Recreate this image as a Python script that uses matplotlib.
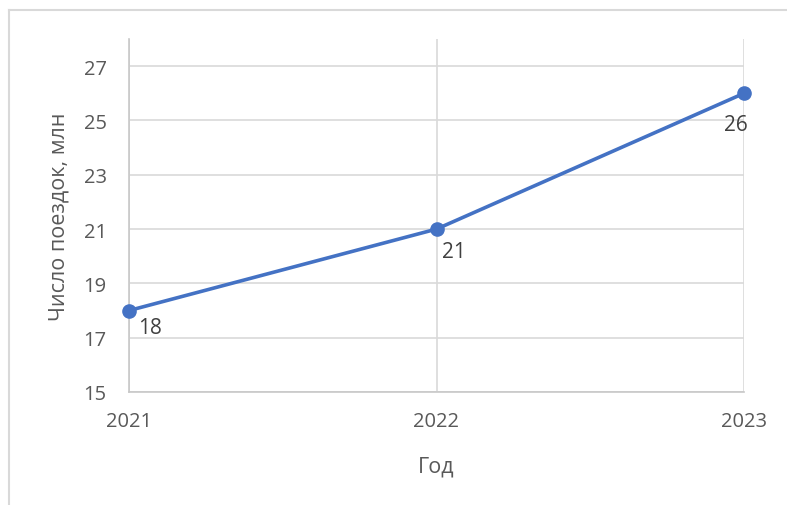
import matplotlib.pyplot as plt
from matplotlib.lines import Line2D

years = [2021, 2022, 2023]
trips = [18, 21, 26]
yticks = [15, 17, 19, 21, 23, 25, 27]

W, H = 787, 506
fig = plt.figure(figsize=(W / 100, H / 100), dpi=100)
plt.rcParams['font.family'] = ['Open Sans', 'DejaVu Sans']

# chart frame (cropped excel border on left and top)
fig.add_artist(Line2D([8.5 / W, 8.5 / W], [0, 1 - 10.5 / H], transform=fig.transFigure, color='#d9d9d9', lw=1.5))
fig.add_artist(Line2D([8.5 / W, 786 / W], [1 - 10.5 / H, 1 - 10.5 / H], transform=fig.transFigure, color='#d9d9d9', lw=1.5))

ax = fig.add_axes([129 / W, 1 - 393 / H, (744 - 129) / W, (393 - 40) / H])
ax.plot(years, trips, color='#4472c4', lw=2.6, marker='o', markersize=9.5, zorder=3, clip_on=False)

# label offsets (points), left-aligned except the last one
offsets = [(6.5, -12.2), (4.3, -15.8), (-5.8, -22.3)]
for x, y, off in zip(years, trips, offsets):
    ax.annotate(str(y), (x, y), xytext=off, textcoords='offset points',
                ha='left' if off[0] > 0 else 'center', va='center',
                fontsize=15, color='#404040')

ax.set_xlim(2021, 2023)
ax.set_ylim(15, 28)
ax.set_xticks(years)
ax.set_yticks(yticks)
ax.grid(True, color='#d9d9d9', lw=1.2)
ax.set_axisbelow(True)
for s in ['top', 'right']:
    ax.spines[s].set_visible(False)
for s in ['left', 'bottom']:
    ax.spines[s].set_color('#c8c8c8')
    ax.spines[s].set_linewidth(1.2)
ax.tick_params(length=0, labelsize=14.5, labelcolor='#595959')
ax.tick_params(axis='y', pad=16)
ax.tick_params(axis='x', pad=14)
ax.set_xlabel('Год', fontsize=15.5, color='#595959', labelpad=17)
ax.set_ylabel('Число поездок, млн', fontsize=15.5, color='#595959', labelpad=10)

fig.savefig('out.png', dpi=100)
